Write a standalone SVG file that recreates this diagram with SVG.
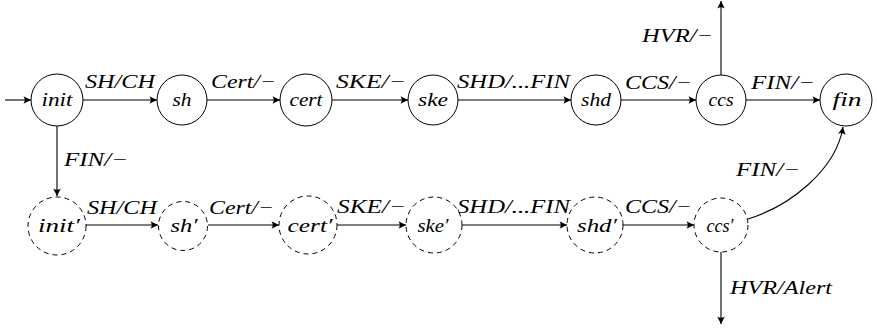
<svg xmlns="http://www.w3.org/2000/svg" width="877" height="329" viewBox="0 0 877 329">
<defs>
<marker id="arr" markerUnits="userSpaceOnUse" markerWidth="12" markerHeight="10" viewBox="-9 -5 10 10" refX="0" refY="0" orient="auto">
<path d="M0,0 L-7.5,-3.8 Q-5,0 -7.5,3.8 Z" fill="#000"/>
</marker>
</defs>
<style>
.n{fill:#fff;stroke:#000;stroke-width:1}
.d{fill:#fff;stroke:#000;stroke-width:1;stroke-dasharray:5 4}
.e{fill:none;stroke:#000;stroke-width:1.1;marker-end:url(#arr)}
text{font-family:'Liberation Serif','Times New Roman',serif;font-style:italic;font-size:18.5px;fill:#000}
.c{text-anchor:middle}
</style>
<rect width="877" height="329" fill="#fff"/>
<g id="edges">
<path class="e" d="M5,100 H31"/>
<path class="e" d="M83,100 H157"/>
<path class="e" d="M207,100 H280"/>
<path class="e" d="M332,100 H408"/>
<path class="e" d="M458,100 H571"/>
<path class="e" d="M621,100 H696"/>
<path class="e" d="M746,100 H820"/>
<path class="e" d="M721,75 V1"/>
<path class="e" d="M57,126 V196"/>
<path class="e" d="M86,225 H158"/>
<path class="e" d="M208,225 H279"/>
<path class="e" d="M337,225 H406"/>
<path class="e" d="M462,225 H567"/>
<path class="e" d="M623,225 H694"/>
<path class="e" d="M721,252 V324"/>
<path class="e" d="M748,219 C790,206 836,170 843,127"/>
<text x="85" y="88" textLength="70" lengthAdjust="spacingAndGlyphs">SH/CH</text>
<text x="211" y="88" textLength="65" lengthAdjust="spacingAndGlyphs">Cert/−</text>
<text x="336" y="88" textLength="70" lengthAdjust="spacingAndGlyphs">SKE/−</text>
<text x="457" y="88" textLength="113" lengthAdjust="spacingAndGlyphs">SHD/...FIN</text>
<text x="625" y="89" textLength="67" lengthAdjust="spacingAndGlyphs">CCS/−</text>
<text x="751" y="89" textLength="64" lengthAdjust="spacingAndGlyphs">FIN/−</text>
<text x="642" y="42" textLength="71" lengthAdjust="spacingAndGlyphs">HVR/−</text>
<text x="64" y="166" textLength="64" lengthAdjust="spacingAndGlyphs">FIN/−</text>
<text x="87" y="214" textLength="70" lengthAdjust="spacingAndGlyphs">SH/CH</text>
<text x="209" y="214" textLength="65" lengthAdjust="spacingAndGlyphs">Cert/−</text>
<text x="337" y="213" textLength="69" lengthAdjust="spacingAndGlyphs">SKE/−</text>
<text x="457" y="213" textLength="113" lengthAdjust="spacingAndGlyphs">SHD/...FIN</text>
<text x="625" y="213" textLength="67" lengthAdjust="spacingAndGlyphs">CCS/−</text>
<text x="736" y="176" textLength="64" lengthAdjust="spacingAndGlyphs">FIN/−</text>
<text x="730" y="294" textLength="102" lengthAdjust="spacingAndGlyphs">HVR/Alert</text>
</g>
<g id="init"><circle class="n" cx="57" cy="100" r="26"/><text class="c" x="57" y="106" textLength="31" lengthAdjust="spacingAndGlyphs">init</text></g>
<g id="sh"><circle class="n" cx="182" cy="100" r="25"/><text class="c" x="182" y="106" textLength="19" lengthAdjust="spacingAndGlyphs">sh</text></g>
<g id="cert"><circle class="n" cx="306" cy="100" r="26"/><text class="c" x="306" y="106" textLength="33" lengthAdjust="spacingAndGlyphs">cert</text></g>
<g id="ske"><circle class="n" cx="433" cy="100" r="25"/><text class="c" x="433" y="106" textLength="30" lengthAdjust="spacingAndGlyphs">ske</text></g>
<g id="shd"><circle class="n" cx="596" cy="100" r="25"/><text class="c" x="596" y="106" textLength="30" lengthAdjust="spacingAndGlyphs">shd</text></g>
<g id="ccs"><circle class="n" cx="721" cy="100" r="25"/><text class="c" x="721" y="106" textLength="25" lengthAdjust="spacingAndGlyphs">ccs</text></g>
<g id="fin"><circle class="n" cx="846" cy="100" r="26"/><text class="c" x="847" y="106" textLength="29" lengthAdjust="spacingAndGlyphs">fin</text></g>
<g id="init2"><circle class="d" cx="57" cy="226" r="29"/><text class="c" x="59" y="232" textLength="42" lengthAdjust="spacingAndGlyphs">init′</text></g>
<g id="sh2"><circle class="d" cx="183" cy="226" r="24.5"/><text class="c" x="184" y="232" textLength="27" lengthAdjust="spacingAndGlyphs">sh′</text></g>
<g id="cert2"><circle class="d" cx="308" cy="225" r="29"/><text class="c" x="310" y="232" textLength="45" lengthAdjust="spacingAndGlyphs">cert′</text></g>
<g id="ske2"><circle class="d" cx="434" cy="225" r="28"/><text class="c" x="433" y="232" textLength="31" lengthAdjust="spacingAndGlyphs">ske′</text></g>
<g id="shd2"><circle class="d" cx="595" cy="225" r="28"/><text class="c" x="597" y="232" textLength="40" lengthAdjust="spacingAndGlyphs">shd′</text></g>
<g id="ccs2"><circle class="d" cx="721" cy="225" r="27"/><text class="c" x="720" y="232" textLength="27" lengthAdjust="spacingAndGlyphs">ccs′</text></g>
</svg>
